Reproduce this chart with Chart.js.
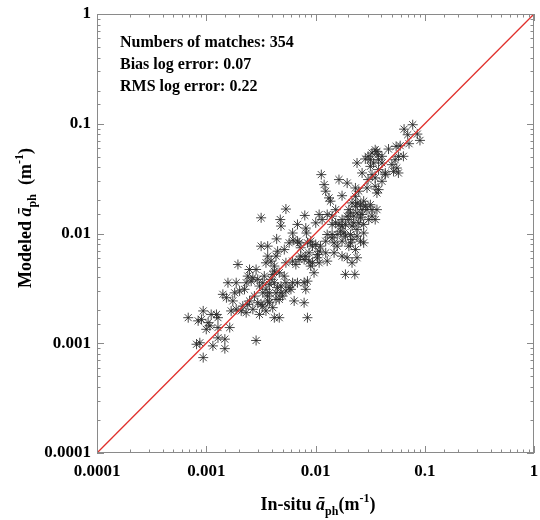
<!DOCTYPE html>
<html>
<head>
<meta charset="utf-8">
<script src="https://cdn.jsdelivr.net/npm/chart.js@4.4.1/dist/chart.umd.min.js"></script>
<style>
  html, body { margin: 0; padding: 0; background: #ffffff; }
  #wrap { position: relative; width: 540px; height: 520px; }
</style>
</head>
<body>
<div id="wrap"><canvas id="c" width="540" height="520"></canvas></div>
<script>
// ---- Data ----
const insituValues = [
  0.0776,0.0647,0.0698,0.0855,0.0904,0.0718,0.0596,0.0466,0.0547,0.0352,
  0.0329,0.0373,0.0303,0.0286,0.0378,0.0340,0.0406,0.0318,0.0378,0.0435,
  0.0574,0.0638,0.0536,0.0500,0.0555,0.0518,0.0574,0.0240,0.0267,0.0329,
  0.0303,0.0406,0.0352,0.0378,0.0435,0.0113,0.0164,0.0195,0.0120,0.0124,
  0.0133,0.0137,0.0175,0.0232,0.0249,0.0296,0.0216,0.0232,0.0258,0.0286,
  0.0267,0.0240,0.0224,0.0296,0.0318,0.0365,0.0329,0.0352,0.0202,0.0195,
  0.0175,0.0164,0.0188,0.0216,0.0249,0.0276,0.0307,0.0153,0.0142,0.0128,
  0.0108,0.0115,0.00536,0.00318,0.00476,0.00483,0.00798,0.00684,0.00815,0.00826,
  0.00617,0.00625,0.00441,0.00365,0.00318,0.00450,0.00518,0.00574,0.00708,0.00733,
  0.00904,0.00937,0.01005,0.0108,0.0124,0.0124,0.0142,0.0158,0.0169,0.0188,
  0.0216,0.0240,0.0258,0.0276,0.0202,0.0232,0.0175,0.0148,0.0148,0.0175,
  0.0195,0.0240,0.0216,0.0188,0.0229,0.00365,0.00435,0.00392,0.00352,0.00420,
  0.00536,0.00617,0.00661,0.00708,0.00787,0.00873,0.00904,0.00970,0.00815,0.0104,
  0.0108,0.00195,0.00249,0.00286,0.00240,0.00267,0.00296,0.00340,0.00406,0.00466,
  0.00518,0.00536,0.00574,0.00483,0.00420,0.00378,0.00352,0.00329,0.00307,0.00158,
  0.00188,0.00202,0.00142,0.00153,0.00182,0.00224,0.00276,0.00249,0.00296,0.00329,
  0.00378,0.00406,0.00435,0.00500,0.00596,0.00638,0.00787,0.00684,0.00787,0.00815,
  0.00844,0.00466,0.00420,0.00352,0.00307,0.00267,0.00232,0.00216,0.00169,0.000938,
  0.000904,0.00111,0.00124,0.00128,0.00104,0.00100,0.00108,0.000843,0.000684,0.00128,
  0.00164,0.000873,0.000815,0.00115,0.00128,0.00148,0.00148,0.000938,0.00286,0.00420,
  0.00258,0.00232,0.00450,0.00617,0.00844,0.00378,0.00435,0.00483,0.00536,0.00318,
  0.00365,0.00466,0.00240,0.00209,0.00188,0.00175,0.0352,0.0365,0.0232,0.0240,
  0.0209,0.0267,0.0224,0.0202,0.0175,0.0153,0.0142,0.0182,0.0209,0.0240,
  0.0276,0.0209,0.0158,0.0142,0.0128,0.01005,0.00684,0.00844,0.0111,0.0104,
  0.00873,0.00733,0.00937,0.0128,0.0276,0.0258,0.0329,0.00329,0.00392,0.00365,
  0.0365,0.0406,0.0318
];
const modeledValues = [
  0.098,0.0893,0.0794,0.0805,0.0705,0.0658,0.0631,0.0588,0.0622,0.0579,
  0.0541,0.0522,0.0505,0.0478,0.0470,0.0439,0.0439,0.0409,0.0382,0.0356,
  0.0505,0.0505,0.0470,0.0424,0.0395,0.0368,0.0356,0.0439,0.0356,0.0344,
  0.0310,0.0299,0.0269,0.0251,0.0344,0.0344,0.0310,0.0288,0.0279,0.0243,
  0.0211,0.0197,0.0221,0.0260,0.0243,0.0260,0.0190,0.0177,0.0183,0.0177,
  0.0165,0.0154,0.0144,0.0165,0.0183,0.0165,0.0144,0.0134,0.0165,0.0144,
  0.0134,0.0121,0.0121,0.0117,0.0125,0.0121,0.0134,0.0165,0.0144,0.0149,
  0.0149,0.0134,0.0167,0.0139,0.0134,0.0117,0.0146,0.0121,0.0112,0.0101,
  0.0101,0.00869,0.00893,0.00767,0.00767,0.00690,0.00714,0.00822,0.00822,0.00741,
  0.00851,0.00767,0.00794,0.00690,0.00667,0.00851,0.00979,0.00979,0.0105,0.00946,
  0.00881,0.00946,0.00851,0.00822,0.00767,0.00714,0.00851,0.00822,0.00667,0.00622,
  0.00601,0.00601,0.00541,0.00424,0.00424,0.00622,0.00622,0.00560,0.00541,0.00505,
  0.00541,0.00560,0.00522,0.00579,0.00579,0.00560,0.00505,0.00439,0.00622,0.00601,
  0.00541,0.00522,0.00470,0.00470,0.00409,0.00395,0.00382,0.00409,0.00424,0.00439,
  0.00409,0.00356,0.00321,0.00332,0.00356,0.00344,0.00310,0.00288,0.00332,0.00356,
  0.00356,0.00299,0.00279,0.00260,0.00288,0.00310,0.00269,0.00243,0.00234,0.00218,
  0.00234,0.00211,0.00251,0.00269,0.00310,0.00243,0.00234,0.00356,0.00356,0.00310,
  0.00171,0.00171,0.00171,0.00197,0.00183,0.00204,0.00190,0.00218,0.00197,0.00197,
  0.00165,0.00183,0.00183,0.00171,0.00154,0.00134,0.00144,0.00160,0.00171,0.00139,
  0.00139,0.00101,0.000979,0.000946,0.00112,0.00109,0.000893,0.000740,0.00106,0.00454,
  0.00368,0.00356,0.00321,0.00356,0.00368,0.00288,0.00288,0.00288,0.00299,0.00226,
  0.00243,0.00251,0.00226,0.00197,0.00204,0.00243,0.0321,0.0234,0.0218,0.0190,
  0.0154,0.0149,0.0125,0.0134,0.0117,0.0125,0.0121,0.0101,0.00979,0.0109,
  0.0101,0.00822,0.00767,0.00912,0.00979,0.0125,0.00851,0.00822,0.00767,0.00644,
  0.00667,0.00622,0.00541,0.00560,0.0197,0.0139,0.0165,0.00356,0.00382,0.00269,
  0.0560,0.0505,0.0470
];
const axisRange = [0.0001, 1];
const decadeValues = [0.0001, 0.001, 0.01, 0.1, 1];
const tickLabels = ['0.0001', '0.001', '0.01', '0.1', '1'];
const statLines = ['Numbers of matches: 354', 'Bias log error: 0.07', 'RMS log error: 0.22'];

// ---- Build chart ----
const scatterData = insituValues.map((v, i) => ({ x: v, y: modeledValues[i] }));
const lineData = axisRange.map(v => ({ x: v, y: v }));

const SERIF = "'Liberation Serif', 'Times New Roman', serif";

function isDecade(v) {
  const l = Math.log10(v);
  return Math.abs(l - Math.round(l)) < 1e-6;
}
function labelFor(v) {
  if (!isDecade(v)) return '';
  const idx = decadeValues.findIndex(d => Math.abs(Math.log10(d) - Math.log10(v)) < 1e-6);
  return idx >= 0 ? tickLabels[idx] : '';
}

function drawRich(ctx, segs, x, y, align) {
  let total = 0;
  segs.forEach(s => { ctx.font = s.f; total += ctx.measureText(s.t).width; });
  let cx = align === 'center' ? x - total / 2 : x;
  ctx.textAlign = 'left';
  ctx.textBaseline = 'alphabetic';
  segs.forEach(s => {
    ctx.font = s.f;
    ctx.fillText(s.t, cx, y + (s.dy || 0));
    cx += ctx.measureText(s.t).width;
  });
}

const decor = {
  id: 'decor',
  afterDraw(chart) {
    const { ctx, chartArea: a, scales: { x, y } } = chart;
    ctx.save();
    // frame
    ctx.strokeStyle = '#8a8a8a';
    ctx.lineWidth = 1;
    ctx.strokeRect(Math.round(a.left) + 0.5, Math.round(a.top) + 0.5,
                   Math.round(a.right - a.left) - 1, Math.round(a.bottom - a.top) - 1);
    // inside ticks
    ctx.beginPath();
    x.ticks.forEach(t => {
      const p = Math.round(x.getPixelForValue(t.value)) + 0.5;
      const L = isDecade(t.value) ? 7 : 3.5;
      ctx.moveTo(p, a.bottom); ctx.lineTo(p, a.bottom - L);
      ctx.moveTo(p, a.top); ctx.lineTo(p, a.top + L);
    });
    y.ticks.forEach(t => {
      const p = Math.round(y.getPixelForValue(t.value)) + 0.5;
      const L = isDecade(t.value) ? 7 : 3.5;
      ctx.moveTo(a.left, p); ctx.lineTo(a.left + L, p);
      ctx.moveTo(a.right, p); ctx.lineTo(a.right - L, p);
    });
    ctx.stroke();

    ctx.fillStyle = '#000000';
    // stats text
    ctx.font = 'bold 16px ' + SERIF;
    ctx.textAlign = 'left';
    ctx.textBaseline = 'alphabetic';
    const base = [47, 69, 91];
    statLines.forEach((s, i) => ctx.fillText(s, 120, base[i]));

    const main = 'bold 18px ' + SERIF;
    const ital = 'italic bold 18px ' + SERIF;
    const small = 'bold 12px ' + SERIF;
    // x title
    drawRich(ctx, [
      { t: 'In-situ ', f: main },
      { t: 'ā', f: ital },
      { t: 'ph', f: small, dy: 5 },
      { t: '(m', f: main },
      { t: '-1', f: small, dy: -8 },
      { t: ')', f: main }
    ], 318, 510, 'center');
    // y title
    ctx.save();
    ctx.translate(31, 218);
    ctx.rotate(-Math.PI / 2);
    drawRich(ctx, [
      { t: 'Modeled ', f: main },
      { t: 'ā', f: ital },
      { t: 'ph', f: small, dy: 5 },
      { t: '  (m', f: main },
      { t: '-1', f: small, dy: -8 },
      { t: ')', f: main }
    ], 0, 0, 'center');
    ctx.restore();
    ctx.restore();
  }
};

new Chart(document.getElementById('c'), {
  type: 'scatter',
  data: {
    datasets: [
      {
        type: 'line',
        data: lineData,
        borderColor: '#e0302c',
        borderWidth: 1.3,
        pointRadius: 0,
        fill: false,
        order: 0
      },
      {
        data: scatterData,
        pointStyle: 'star',
        pointRadius: 5,
        borderWidth: 1,
        borderColor: 'rgba(40,40,40,0.85)',
        backgroundColor: 'rgba(40,40,40,0.85)',
        order: 1
      }
    ]
  },
  options: {
    responsive: false,
    animation: false,
    devicePixelRatio: 1,
    layout: { padding: { top: 14, right: 3, left: 0, bottom: 0 } },
    plugins: { legend: { display: false }, tooltip: { enabled: false } },
    scales: {
      x: {
        type: 'logarithmic',
        min: axisRange[0],
        max: axisRange[1],
        grid: { display: false, drawTicks: false },
        border: { display: false },
        afterFit: s => { s.height = 67; s.paddingLeft = 0; s.paddingRight = 0; },
        ticks: {
          autoSkip: false,
          maxRotation: 0,
          padding: 8,
          color: '#000',
          font: { family: SERIF, size: 17, weight: 'bold' },
          callback: v => labelFor(v)
        }
      },
      y: {
        type: 'logarithmic',
        min: axisRange[0],
        max: axisRange[1],
        grid: { display: false, drawTicks: false },
        border: { display: false },
        afterFit: s => { s.width = 97; s.paddingTop = 0; s.paddingBottom = 0; },
        ticks: {
          autoSkip: false,
          padding: 6,
          color: '#000',
          font: { family: SERIF, size: 17, weight: 'bold' },
          callback: v => labelFor(v)
        }
      }
    }
  },
  plugins: [decor]
});
</script>
</body>
</html>
